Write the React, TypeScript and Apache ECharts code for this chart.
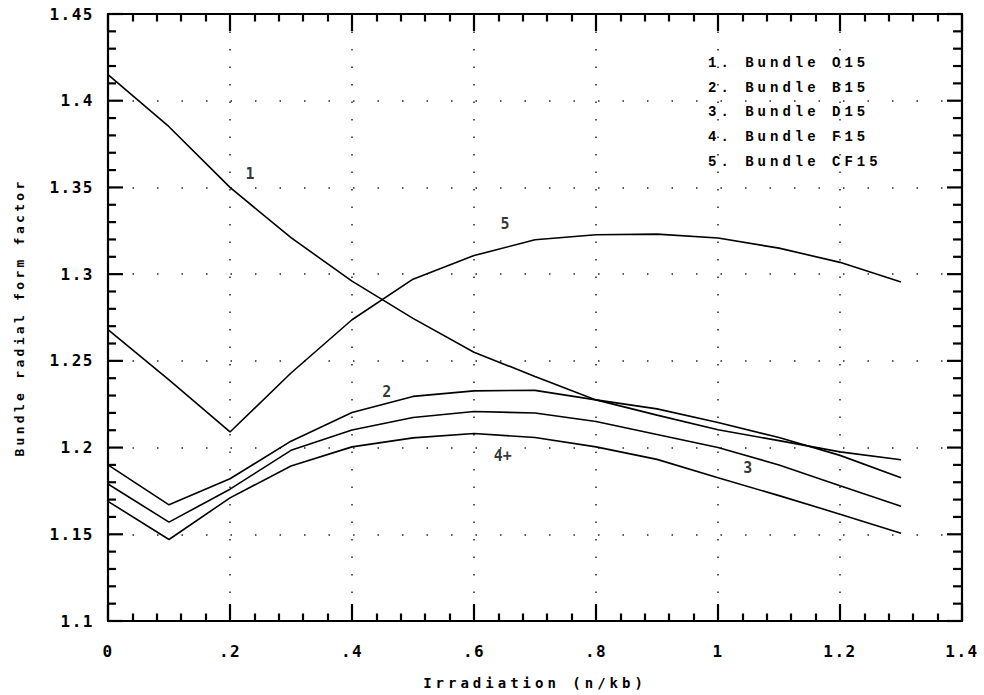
import React, { useEffect, useRef } from 'react';
import * as echarts from 'echarts';

// Irradiation (n/kb)
const irradiation = [0, 0.1, 0.2, 0.3, 0.4, 0.5, 0.6, 0.7, 0.8, 0.9, 1.0, 1.1, 1.2, 1.3];

const seriesNames = ['Bundle O15', 'Bundle B15', 'Bundle D15', 'Bundle F15', 'Bundle CF15'];

const bundleO15 = [1.415, 1.385, 1.35, 1.321, 1.296, 1.2745, 1.255, 1.241, 1.2275, 1.2187, 1.2103, 1.204, 1.1975, 1.193];
const bundleB15 = [1.19, 1.167, 1.182, 1.2037, 1.2202, 1.2295, 1.2327, 1.233, 1.2275, 1.2223, 1.2145, 1.2058, 1.1955, 1.1826];
const bundleD15 = [1.179, 1.157, 1.176, 1.1984, 1.2101, 1.2173, 1.2208, 1.2199, 1.215, 1.2075, 1.2, 1.19, 1.178, 1.1661];
const bundleF15 = [1.169, 1.147, 1.171, 1.1894, 1.2004, 1.2056, 1.2081, 1.2058, 1.2004, 1.1932, 1.1826, 1.1723, 1.1616, 1.1506];
const bundleCF15 = [1.268, 1.239, 1.209, 1.243, 1.2737, 1.2971, 1.3107, 1.3198, 1.3227, 1.3231, 1.3208, 1.315, 1.3068, 1.2955];

const seriesValues = [bundleO15, bundleB15, bundleD15, bundleF15, bundleCF15];

// curve annotations, in data coordinates
const curveLabelText = ['1', '5', '2', '4+', '3'];
const curveLabelX = [0.233, 0.651, 0.457, 0.647, 1.049];
const curveLabelY = [1.358, 1.329, 1.232, 1.1953, 1.188];

const xMin = 0;
const xMax = 1.4;
const xStep = 0.2;
const xMinorPerMajor = 5;
const yMin = 1.1;
const yMax = 1.45;
const yStep = 0.05;
const yMinorPerMajor = 5;

const MONO = '"DejaVu Sans Mono", monospace';
const SERIF_MONO = '"Liberation Mono", "DejaVu Sans Mono", monospace';

const css = `
.refchart svg text[style*="16px"] { letter-spacing: 1.5px; }
.refchart svg text[style*="14px"] { letter-spacing: 4px; }
.refchart svg text[style*="13px"] { letter-spacing: 3.3px; }
`;

function fmtX(v: number): string {
  const r = Math.round(v * 10) / 10;
  if (r === 0) return '0';
  return String(r).replace(/^0\./, '.');
}

function fmtY(v: number): string {
  return String(Math.round(v * 100) / 100);
}

// tick lengths as fractions of the y range (plot height ~607px)
const X_TICK_MAJOR = 17 / 607;
const X_TICK_MINOR = 7.5 / 607;

// top/bottom tick segments in data coordinates
function buildXTickSegments(): { coords: number[][] }[] {
  const out: { coords: number[][] }[] = [];
  const span = yMax - yMin;
  const nx = Math.round((xMax - xMin) / xStep) * xMinorPerMajor;
  for (let i = 0; i <= nx; i++) {
    const x = xMin + (i * xStep) / xMinorPerMajor;
    const major = i % xMinorPerMajor === 0;
    const len = (major ? X_TICK_MAJOR : X_TICK_MINOR) * span;
    out.push({ coords: [[x, yMin], [x, yMin + len]] });
    out.push({ coords: [[x, yMax], [x, yMax - len]] });
  }
  return out;
}

// left/right ticks: [x, y, side(2 left, 3 right), major]
function buildYTicks(): number[][] {
  const out: number[][] = [];
  const ny = Math.round((yMax - yMin) / yStep) * yMinorPerMajor;
  for (let i = 0; i <= ny; i++) {
    const y = yMin + (i * yStep) / yMinorPerMajor;
    const major = i % yMinorPerMajor === 0 ? 1 : 0;
    out.push([xMin, y, 2, major]);
    out.push([xMax, y, 3, major]);
  }
  return out;
}

export default function App() {
  const ref = useRef<HTMLDivElement>(null);

  useEffect(() => {
    if (!ref.current) return;
    const chart = echarts.init(ref.current, null, { renderer: 'svg' });

    const axisLineCommon = { show: true, onZero: false, lineStyle: { color: '#000', width: 2.2 } };

    const lineSeries = seriesNames.map((name, i) => ({
      name,
      type: 'line',
      xAxisIndex: 0,
      yAxisIndex: 0,
      data: irradiation.map((x, j) => [x, seriesValues[i][j]]),
      showSymbol: false,
      symbol: 'none',
      smooth: false,
      lineStyle: { color: '#000', width: 1.6 },
      itemStyle: { color: '#000' },
      z: 3,
    }));

    const labelSeries = {
      name: 'labels',
      type: 'scatter',
      xAxisIndex: 0,
      yAxisIndex: 0,
      symbolSize: 1,
      itemStyle: { color: 'rgba(0,0,0,0)' },
      data: curveLabelText.map((t, i) => ({ name: t, value: [curveLabelX[i], curveLabelY[i]] })),
      label: {
        show: true,
        position: 'inside',
        formatter: (p: any) => p.name,
        color: '#000',
        fontFamily: MONO,
        fontWeight: 'bold',
        fontSize: 15,
      },
      silent: true,
      z: 4,
    };

    const yTickSeries = {
      name: 'yFrameTicks',
      type: 'custom',
      xAxisIndex: 0,
      yAxisIndex: 0,
      clip: false,
      silent: true,
      z: 5,
      data: buildYTicks(),
      renderItem: (_params: any, api: any) => {
        const p = api.coord([api.value(0), api.value(1)]);
        const side = api.value(2);
        const major = api.value(3) === 1;
        const len = side === 2 ? (major ? 15 : 8) : major ? 15 : 9;
        const x2 = side === 2 ? p[0] + len : p[0] - len;
        return {
          type: 'line',
          shape: { x1: p[0], y1: p[1], x2, y2: p[1] },
          style: { stroke: '#000', lineWidth: 2.2 },
        };
      },
    };

    const xTickSeries = {
      name: 'xFrameTicks',
      type: 'lines',
      coordinateSystem: 'cartesian2d',
      xAxisIndex: 0,
      yAxisIndex: 0,
      polyline: false,
      silent: true,
      z: 6,
      symbol: ['none', 'none'],
      lineStyle: { color: '#000', width: 2.2, opacity: 1, curveness: 0 },
      data: buildXTickSegments(),
    };

    const option: any = {
      animation: false,
      backgroundColor: '#fff',
      grid: { left: 108, right: 22, top: 14, bottom: 74, containLabel: false },
      legend: {
        show: true,
        orient: 'vertical',
        left: 698,
        top: 51,
        data: seriesNames,
        icon: 'none',
        itemWidth: 0,
        itemHeight: 14,
        itemGap: 10.7,
        selectedMode: false,
        formatter: (name: string) => `${seriesNames.indexOf(name) + 1}. ${name}`,
        textStyle: {
          color: '#000',
          fontFamily: SERIF_MONO,
          fontWeight: 'bold',
          fontSize: 14,
        },
      },
      xAxis: [
        {
          type: 'value',
          position: 'bottom',
          min: xMin,
          max: xMax,
          interval: xStep,
          axisLine: axisLineCommon,
          axisTick: { show: false },
          minorTick: { show: false },
          splitLine: { show: true, lineStyle: { color: '#222', width: 1.5, type: [1.5, 16] } },
          axisLabel: {
            formatter: fmtX,
            margin: 22,
            color: '#000',
            fontFamily: MONO,
            fontWeight: 'bold',
            fontSize: 16,
          },
          name: 'Irradiation (n/kb)',
          nameLocation: 'middle',
          nameGap: 55,
          nameTextStyle: { color: '#000', fontFamily: MONO, fontWeight: 'bold', fontSize: 14 },
        },
        {
          type: 'value',
          position: 'top',
          min: xMin,
          max: xMax,
          interval: xStep,
          axisLine: axisLineCommon,
          axisTick: { show: false },
          minorTick: { show: false },
          splitLine: { show: false },
          axisLabel: { show: false },
        },
      ],
      yAxis: [
        {
          type: 'value',
          position: 'left',
          min: yMin,
          max: yMax,
          interval: yStep,
          axisLine: axisLineCommon,
          axisTick: { show: false },
          minorTick: { show: false },
          splitLine: { show: true, lineStyle: { color: '#222', width: 1.5, type: [1.5, 23] } },
          axisLabel: {
            formatter: fmtY,
            margin: 14,
            color: '#000',
            fontFamily: MONO,
            fontWeight: 'bold',
            fontSize: 16,
          },
          name: 'Bundle radial form factor',
          nameLocation: 'middle',
          nameGap: 82,
          nameRotate: 90,
          nameTextStyle: { color: '#000', fontFamily: MONO, fontWeight: 'bold', fontSize: 13 },
        },
        {
          type: 'value',
          position: 'right',
          min: yMin,
          max: yMax,
          interval: yStep,
          axisLine: axisLineCommon,
          axisTick: { show: false },
          minorTick: { show: false },
          splitLine: { show: false },
          axisLabel: { show: false },
        },
      ],
      series: [...lineSeries, labelSeries, yTickSeries, xTickSeries],
    };

    chart.setOption(option);
    return () => chart.dispose();
  }, []);

  return (
    <div className="refchart" style={{ position: 'absolute', left: 0, top: 0, width: 984, height: 695, background: '#fff' }}>
      <style>{css}</style>
      <div ref={ref} style={{ width: 984, height: 695 }} />
    </div>
  );
}
